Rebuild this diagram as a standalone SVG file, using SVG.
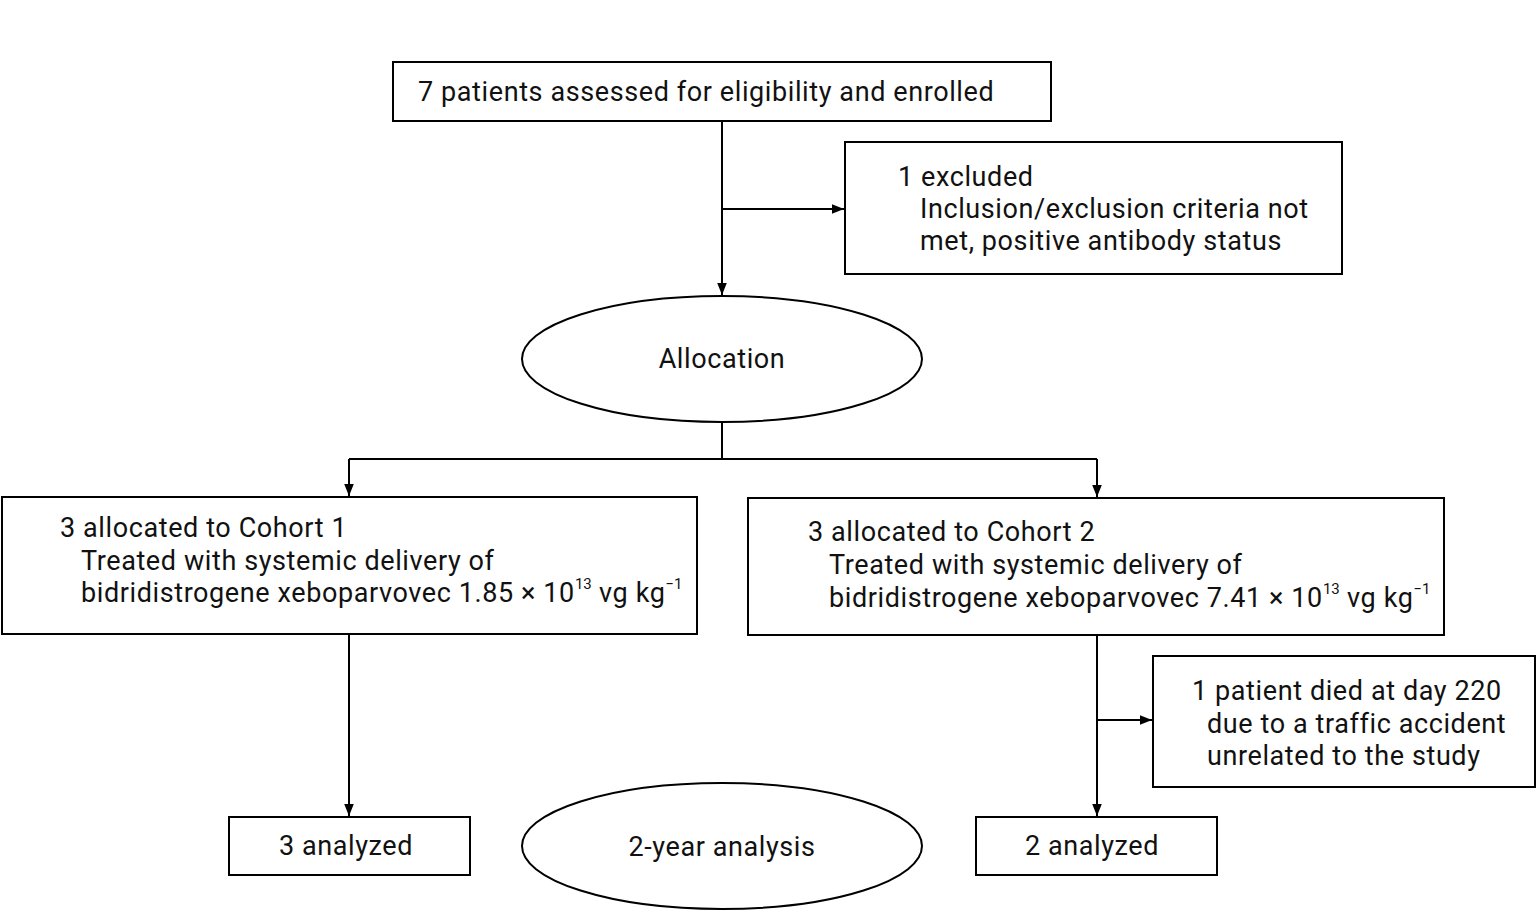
<svg xmlns="http://www.w3.org/2000/svg" width="1536" height="911" viewBox="0 0 1536 911">
<style>
.b{fill:#fff;stroke:#000;stroke-width:2}
.t{font-family:Roboto,"Liberation Sans",sans-serif;font-size:27px;letter-spacing:0.6px;fill:#111}
.s{font-size:15px;letter-spacing:0}
.c line{stroke:#000;stroke-width:2}
</style>
<defs><marker id="a" viewBox="0 0 10 10" refX="10" refY="5" markerWidth="6" markerHeight="6" orient="auto"><path d="M0,1L10,5L0,9z" fill="#000"/></marker></defs>
<rect width="1536" height="911" fill="#fff"/>
<g class="c">
<line x1="722" y1="121" x2="722" y2="295" marker-end="url(#a)"/>
<line x1="722" y1="209" x2="844" y2="209" marker-end="url(#a)"/>
<line x1="722" y1="422" x2="722" y2="459"/>
<line x1="349" y1="459" x2="1097" y2="459"/>
<line x1="349" y1="459" x2="349" y2="496" marker-end="url(#a)"/>
<line x1="1097" y1="459" x2="1097" y2="497" marker-end="url(#a)"/>
<line x1="349" y1="634" x2="349" y2="816" marker-end="url(#a)"/>
<line x1="1097" y1="635" x2="1097" y2="816" marker-end="url(#a)"/>
<line x1="1097" y1="720" x2="1152" y2="720" marker-end="url(#a)"/>
</g>
<g id="enrolled"><rect class="b" x="393" y="62" width="658" height="59"/><text class="t" x="418" y="101">7 patients assessed for eligibility and enrolled</text></g>
<g id="excluded"><rect class="b" x="845" y="142" width="497" height="132"/><text class="t" x="898" y="186">1 excluded</text><text class="t" x="920" y="218">Inclusion/exclusion criteria not</text><text class="t" x="920" y="250">met, positive antibody status</text></g>
<g id="allocation"><ellipse class="b" cx="722" cy="359" rx="200" ry="63"/><text class="t" x="722" y="368" text-anchor="middle">Allocation</text></g>
<g id="cohort1"><rect class="b" x="2" y="497" width="695" height="137"/><text class="t" x="60" y="537">3 allocated to Cohort 1</text><text class="t" x="81" y="570">Treated with systemic delivery of</text><text class="t" x="81" y="602">bidridistrogene xeboparvovec 1.85 × 10<tspan class="s" dy="-13">13</tspan><tspan dy="13"> vg kg</tspan><tspan class="s" dy="-13">−1</tspan></text></g>
<g id="cohort2"><rect class="b" x="748" y="498" width="696" height="137"/><text class="t" x="808" y="541">3 allocated to Cohort 2</text><text class="t" x="829" y="574">Treated with systemic delivery of</text><text class="t" x="829" y="607">bidridistrogene xeboparvovec 7.41 × 10<tspan class="s" dy="-13">13</tspan><tspan dy="13"> vg kg</tspan><tspan class="s" dy="-13">−1</tspan></text></g>
<g id="died"><rect class="b" x="1153" y="656" width="382" height="131"/><text class="t" x="1192" y="700">1 patient died at day 220</text><text class="t" x="1207" y="733">due to a traffic accident</text><text class="t" x="1207" y="765">unrelated to the study</text></g>
<g id="analyzed1"><rect class="b" x="229" y="817" width="241" height="58"/><text class="t" x="346" y="855" text-anchor="middle">3 analyzed</text></g>
<g id="twoyear"><ellipse class="b" cx="722" cy="846" rx="200" ry="63"/><text class="t" x="722" y="856" text-anchor="middle">2-year analysis</text></g>
<g id="analyzed2"><rect class="b" x="976" y="817" width="241" height="58"/><text class="t" x="1092" y="855" text-anchor="middle">2 analyzed</text></g>
</svg>
